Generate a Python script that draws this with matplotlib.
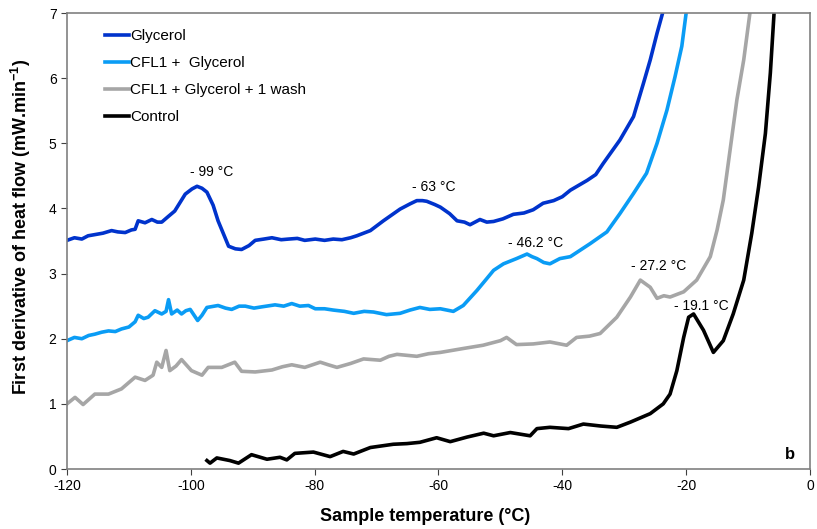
import matplotlib
matplotlib.use('Agg')
import matplotlib.pyplot as plt

plt.rcParams['font.family'] = ['Liberation Sans', 'DejaVu Sans']
plt.rcParams['axes.unicode_minus'] = False

# Glycerol (dark blue)
gly_x = [-120, -118.8, -117.6, -116.6, -115.4, -114.2, -112.8, -111.8, -110.6, -109.6, -109, -108.5,
         -107.4, -106.3, -105.4, -104.7, -103.6, -102.6, -100.9, -99.8, -99.0, -98.2, -97.4,
         -96.4, -95.6, -93.9, -92.8, -91.8, -90.6, -89.6, -88.2, -86.9, -85.4, -84.2, -82.8, -81.6,
         -79.9, -78.4, -77, -75.6, -74.2, -73.2, -71.0, -68.9, -66.2, -64.6, -63.5, -62.6,
         -61.9, -60.6, -59.7, -58.2, -57, -55.8, -54.9, -53.3, -52.2, -51.1, -49.6, -47.9, -46.2,
         -44.7, -43.1, -41.4, -40.0, -38.7, -36.0, -34.6, -33.4, -30.7, -28.5, -26.9, -25.8, -24.7,
         -23.8]
gly_y = [3.51, 3.55, 3.53, 3.58, 3.60, 3.62, 3.66, 3.64, 3.63, 3.67, 3.68, 3.81,
         3.78, 3.83, 3.79, 3.79, 3.88, 3.96, 4.22, 4.30, 4.34, 4.31, 4.25,
         4.05, 3.81, 3.42, 3.38, 3.37, 3.43, 3.51, 3.53, 3.55, 3.52, 3.53, 3.54, 3.51,
         3.53, 3.51, 3.53, 3.52, 3.55, 3.58, 3.66, 3.81, 3.99, 4.07, 4.12, 4.12,
         4.11, 4.06, 4.02, 3.92, 3.81, 3.79, 3.75, 3.83, 3.79, 3.80, 3.84, 3.91, 3.93,
         3.98, 4.08, 4.12, 4.18, 4.28, 4.43, 4.52, 4.69, 5.05, 5.41, 5.92, 6.28, 6.69,
         7.0]

# CFL1 + Glycerol (light blue)
cfl_x = [-120, -118.8, -117.6, -116.5, -115.5, -114.4, -113.3, -112.2, -111.2, -110.0, -109, -108.5,
         -107.6, -106.9, -105.8, -104.7, -104.0, -103.6, -103.1, -102.2, -101.5, -100.8, -100.1,
         -98.9, -98.2, -97.4, -95.6, -94.4, -93.4, -92.2, -91.2, -89.8, -88.5, -86.4, -85.0, -83.7,
         -82.4, -81, -79.9, -78.4, -77, -75.2, -73.7, -72.0, -70.5, -68.4, -66.2, -64.6, -63, -61.4,
         -59.7, -57.6, -56, -53.8, -52.4, -51.1, -49.5, -47.4, -45.7, -44.9, -44.1, -43.0,
         -42, -40.4, -38.7, -35.5, -32.8, -30.7, -28.5, -26.4, -24.7, -23.1, -21.8, -20.7, -20.0]
cfl_y = [1.97, 2.02, 2.0, 2.05, 2.07, 2.10, 2.12, 2.11, 2.15, 2.18, 2.26, 2.36,
         2.31, 2.33, 2.43, 2.38, 2.42, 2.60, 2.38, 2.44, 2.38, 2.43, 2.45,
         2.28, 2.36, 2.48, 2.51, 2.47, 2.45, 2.50, 2.50, 2.47, 2.49, 2.52, 2.50, 2.54,
         2.50, 2.51, 2.46, 2.46, 2.44, 2.42, 2.39, 2.42, 2.41, 2.37, 2.39, 2.44, 2.48, 2.45,
         2.46, 2.42, 2.51, 2.74, 2.90, 3.05, 3.15, 3.23, 3.30, 3.26, 3.23, 3.17,
         3.15, 3.23, 3.26, 3.46, 3.64, 3.92, 4.23, 4.54, 5.0, 5.51, 6.02, 6.49, 7.0]

# CFL1 + Glycerol + 1 wash (grey)
wash_x = [-120, -118.7, -117.4, -115.5, -113.3, -111.2, -109, -107.4, -106.1, -105.5, -104.7, -104,
          -103.4, -102.4, -101.5, -99.9, -98.2, -97.2, -95, -92.9, -91.8, -89.6, -86.9, -85.2,
          -83.7, -81.6, -79.1, -77.8, -76.4, -74.2, -72.1, -69.4, -68.0, -66.7, -63.5, -61.6,
          -59.7, -56, -52.8, -50, -49, -47.4, -44.7, -42.0, -39.3, -37.7, -35.6, -33.9, -31.2,
          -29.0, -27.4, -25.8, -24.7, -23.6, -22.6, -20.4, -18.3, -16.1, -15.0,
          -14.0, -12.9, -11.8, -10.7, -9.7]
wash_y = [1.0, 1.1, 0.99, 1.15, 1.15, 1.23, 1.41, 1.36, 1.44, 1.64, 1.56, 1.82,
          1.51, 1.58, 1.68, 1.51, 1.44, 1.56, 1.56, 1.64, 1.50, 1.49, 1.52, 1.57,
          1.60, 1.56, 1.64, 1.60, 1.56, 1.62, 1.69, 1.67, 1.73, 1.76, 1.73, 1.77,
          1.79, 1.85, 1.90, 1.97, 2.02, 1.91, 1.92, 1.95, 1.90, 2.02, 2.04, 2.08, 2.33,
          2.64, 2.90, 2.79, 2.62, 2.66, 2.64, 2.72, 2.90, 3.26, 3.67,
          4.13, 4.90, 5.67, 6.28, 7.0]

# Control (black)
ctl_x = [-97.4, -96.9, -95.8, -93.7, -92.3, -90.2, -87.7, -85.6, -84.5, -83.2, -80.2, -77.5,
         -75.4, -73.7, -71, -67.3, -65.1, -63, -60.3, -58.1, -55.4, -52.7, -51.1, -48.4, -45.2,
         -44.1, -42, -39.0, -36.6, -33.8, -31.2, -29, -25.8, -23.7, -22.6, -21.5, -20.4, -19.6,
         -18.8, -17.2, -15.6, -14.0, -12.4, -10.7, -9.4, -8.3, -7.2, -6.4, -5.8]
ctl_y = [0.13, 0.09, 0.17, 0.13, 0.09, 0.22, 0.15, 0.18, 0.14, 0.24, 0.26, 0.19,
         0.27, 0.23, 0.33, 0.38, 0.39, 0.41, 0.48, 0.42, 0.49, 0.55, 0.51, 0.56, 0.51,
         0.62, 0.64, 0.62, 0.69, 0.66, 0.64, 0.72, 0.85, 1.0, 1.15, 1.51, 2.02, 2.33,
         2.38, 2.13, 1.79, 1.97, 2.38, 2.9, 3.62, 4.33, 5.15, 6.08, 7.0]

labels = ['Glycerol', 'CFL1 +  Glycerol', 'CFL1 + Glycerol + 1 wash', 'Control']
colors = ['#0033CC', '#0A9CF5', '#A6A6A6', '#000000']

# peak annotations
peak_text = ['- 99 °C', '- 63 °C', '- 46.2 °C', '- 27.2 °C', '- 19.1 °C']
peak_x = [-96.7, -60.7, -44.4, -24.4, -17.5]
peak_y = [4.56, 4.33, 3.47, 3.11, 2.51]

fig = plt.figure(figsize=(8.17, 5.29), dpi=100)
ax = fig.add_axes([0.082, 0.1134, 0.9094, 0.862])

series = [(gly_x, gly_y), (cfl_x, cfl_y), (wash_x, wash_y), (ctl_x, ctl_y)]
for (xs, ys), lab, c in zip(series, labels, colors):
    ax.plot(xs, ys, color=c, lw=2.6, label=lab, solid_joinstyle='round')

for t, px, py in zip(peak_text, peak_x, peak_y):
    ax.text(px, py, t, ha='center', va='center', fontsize=10)

ax.text(-3.3, 0.23, 'b', fontsize=12, fontweight='bold', ha='center', va='center')

ax.set_xlim(-120, 0)
ax.set_ylim(0, 7)
ax.set_xticks(range(-120, 1, 20))
ax.set_yticks(range(0, 8))
for s in ax.spines.values():
    s.set_color('#808080')
    s.set_linewidth(1.2)
ax.tick_params(direction='out', length=4, color='#404040', labelsize=10)

ax.set_xlabel('Sample temperature (°C)', fontsize=13, fontweight='bold')
ax.xaxis.set_label_coords(0.482, -0.085)
ax.set_ylabel('First derivative of heat flow (mW.min$^{\\mathregular{-1}}$)', fontsize=13,
              fontweight='bold')
ax.yaxis.set_label_coords(-0.046, 0.53)

ax.legend(loc='upper left', bbox_to_anchor=(0.032, 0.995), frameon=False, fontsize=11,
          handlelength=1.6, handletextpad=0.1, labelspacing=0.85)

fig.savefig('out.png', dpi=100)
